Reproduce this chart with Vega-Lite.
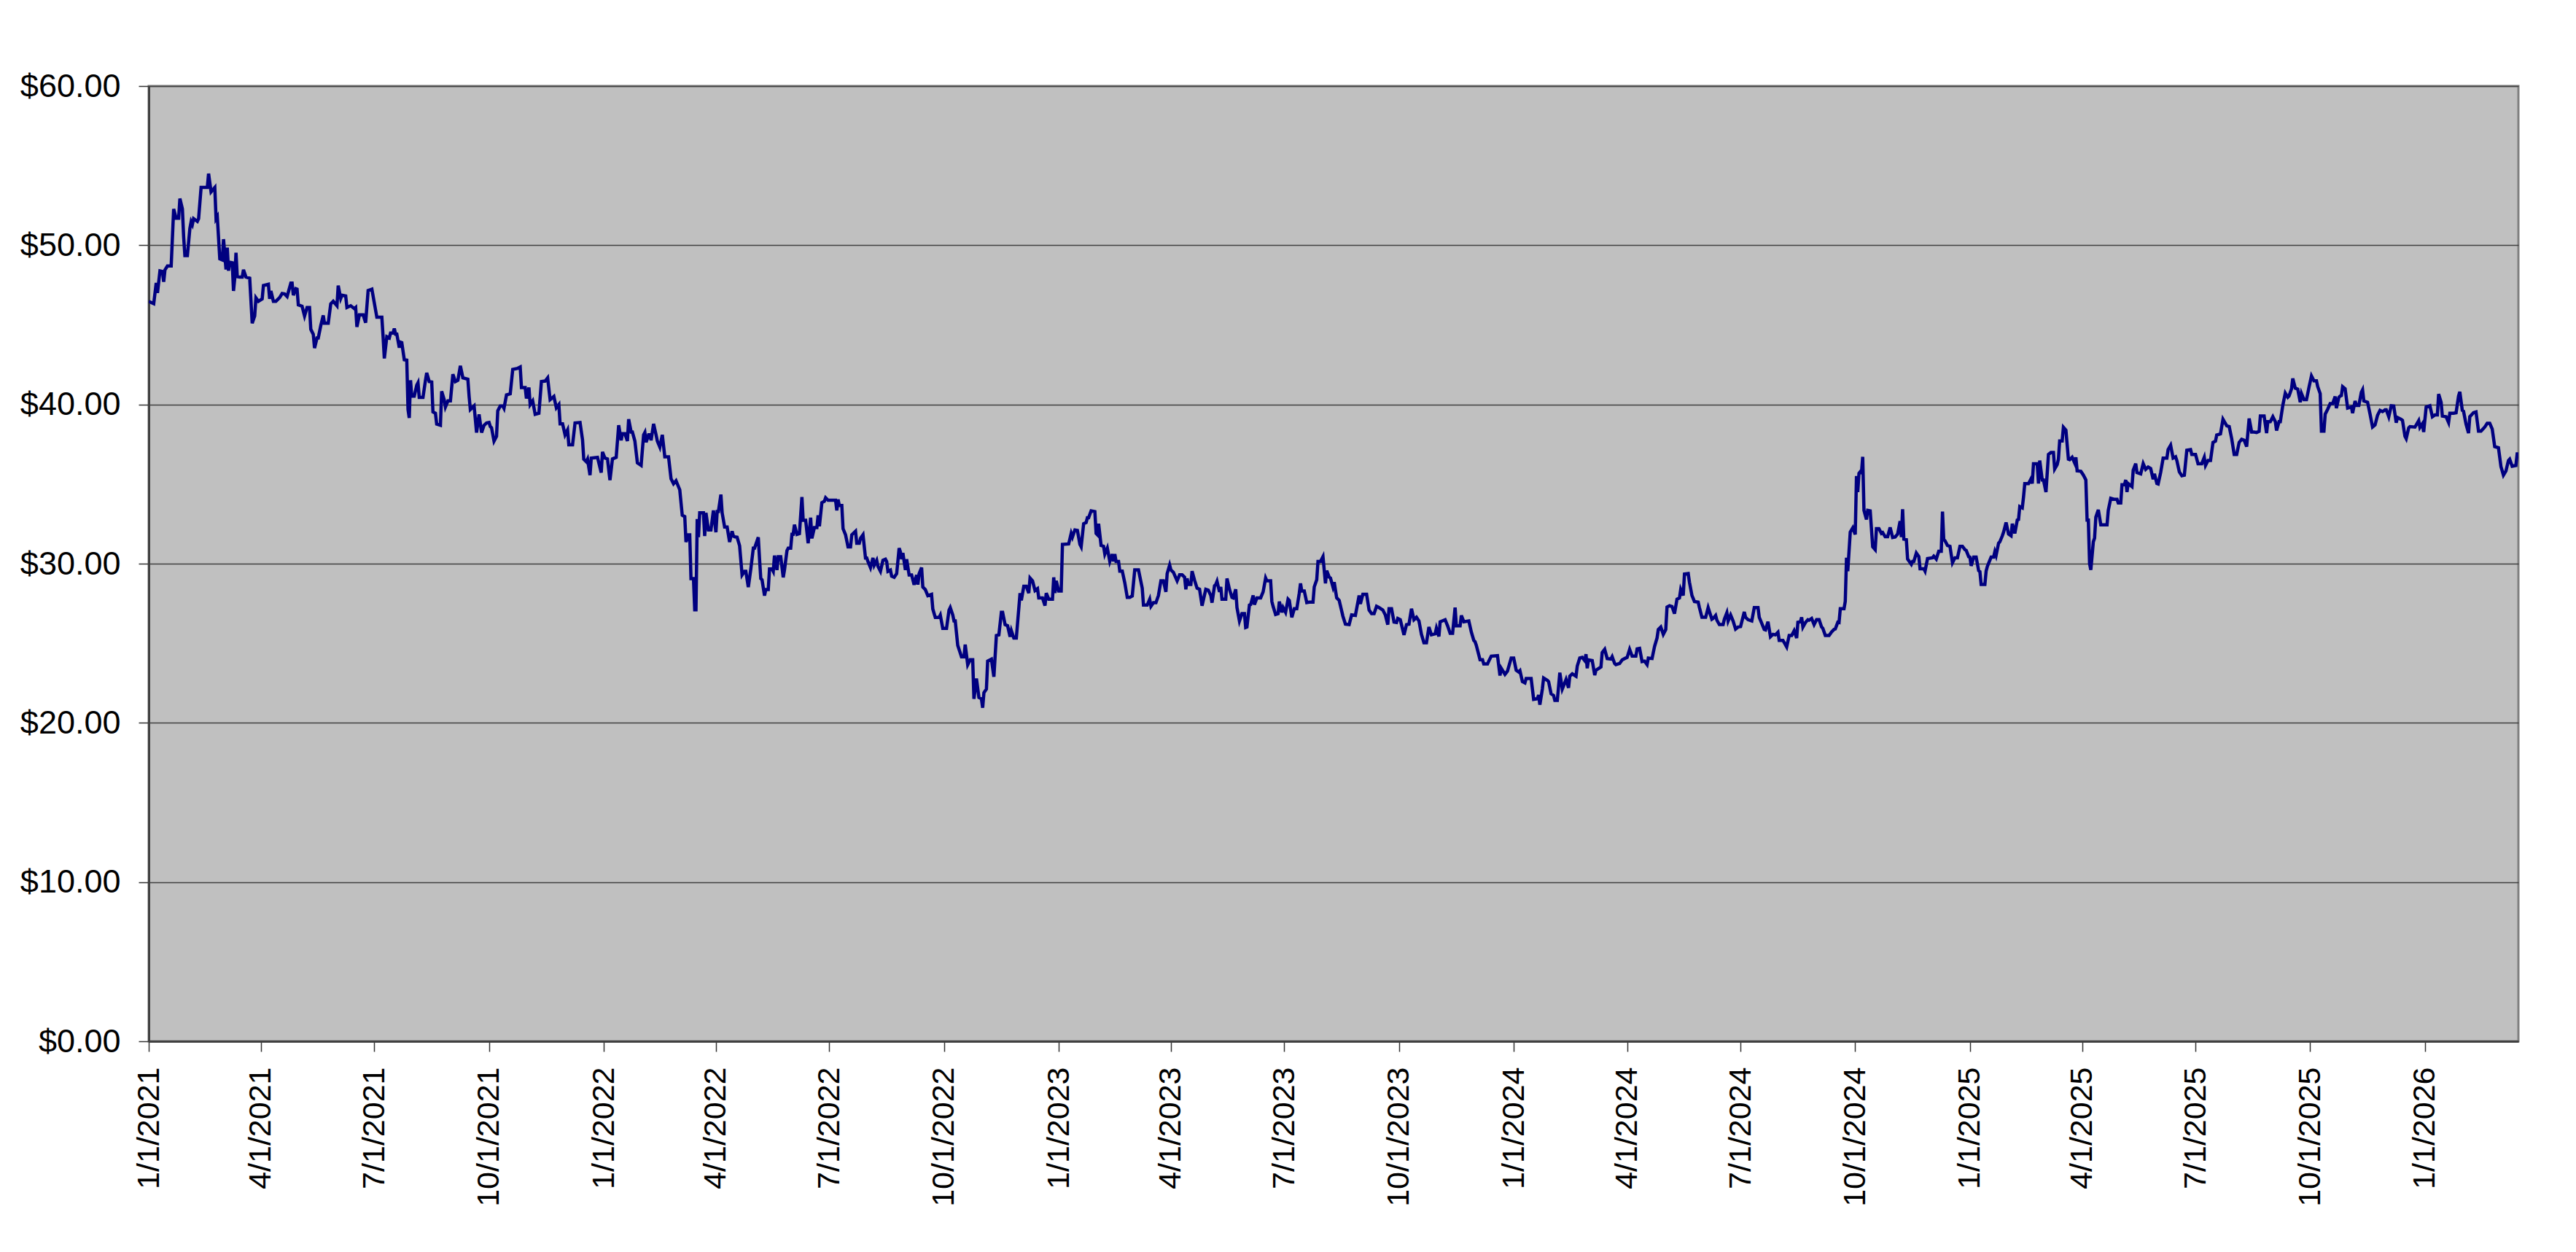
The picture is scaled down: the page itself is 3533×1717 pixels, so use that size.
{
  "$schema": "https://vega.github.io/schema/vega-lite/v6.json",
  "width": 3250,
  "height": 1310,
  "autosize": "none",
  "padding": {"left": 204, "top": 118, "right": 79, "bottom": 289},
  "background": "white",
  "data": {
    "values": [
      {"d":"2021-01-01","v":46.48},{"d":"2021-01-05","v":46.33},{"d":"2021-01-07","v":47.63},{"d":"2021-01-08","v":47.0},{"d":"2021-01-10","v":48.39},{"d":"2021-01-12","v":48.35},{"d":"2021-01-13","v":47.7},{"d":"2021-01-14","v":48.45},{"d":"2021-01-16","v":48.7},{"d":"2021-01-19","v":48.7},
      {"d":"2021-01-21","v":52.28},{"d":"2021-01-23","v":51.7},{"d":"2021-01-25","v":51.7},{"d":"2021-01-26","v":52.93},{"d":"2021-01-28","v":52.28},{"d":"2021-01-29","v":50.53},{"d":"2021-01-30","v":49.35},{"d":"2021-02-01","v":49.35},{"d":"2021-02-03","v":51.05},{"d":"2021-02-04","v":51.47},
      {"d":"2021-02-05","v":51.3},{"d":"2021-02-06","v":51.67},{"d":"2021-02-09","v":51.5},{"d":"2021-02-10","v":51.67},{"d":"2021-02-12","v":53.63},{"d":"2021-02-17","v":53.63},{"d":"2021-02-18","v":54.5},{"d":"2021-02-20","v":53.35},{"d":"2021-02-23","v":53.63},{"d":"2021-02-24","v":51.67},
      {"d":"2021-02-25","v":51.8},{"d":"2021-02-27","v":49.15},{"d":"2021-03-01","v":49.08},{"d":"2021-03-02","v":50.38},{"d":"2021-03-04","v":48.48},{"d":"2021-03-05","v":49.85},{"d":"2021-03-06","v":48.4},{"d":"2021-03-07","v":48.93},{"d":"2021-03-09","v":48.9},{"d":"2021-03-10","v":47.13},
      {"d":"2021-03-11","v":47.93},{"d":"2021-03-12","v":49.53},{"d":"2021-03-13","v":48.03},{"d":"2021-03-15","v":48.0},{"d":"2021-03-17","v":48.0},{"d":"2021-03-18","v":48.46},{"d":"2021-03-20","v":48.0},{"d":"2021-03-23","v":47.93},{"d":"2021-03-25","v":45.1},{"d":"2021-03-27","v":45.56},
      {"d":"2021-03-28","v":46.7},{"d":"2021-03-30","v":46.48},{"d":"2021-04-02","v":46.63},{"d":"2021-04-03","v":47.47},{"d":"2021-04-07","v":47.55},{"d":"2021-04-08","v":46.63},{"d":"2021-04-09","v":47.13},{"d":"2021-04-11","v":46.48},{"d":"2021-04-13","v":46.48},{"d":"2021-04-16","v":46.71},
      {"d":"2021-04-18","v":46.97},{"d":"2021-04-20","v":46.94},{"d":"2021-04-22","v":46.78},{"d":"2021-04-25","v":47.62},{"d":"2021-04-26","v":47.62},{"d":"2021-04-27","v":46.86},{"d":"2021-04-29","v":47.27},{"d":"2021-04-30","v":47.24},{"d":"2021-05-01","v":46.25},{"d":"2021-05-04","v":46.17},
      {"d":"2021-05-06","v":45.56},{"d":"2021-05-08","v":46.09},{"d":"2021-05-10","v":46.09},{"d":"2021-05-11","v":44.72},{"d":"2021-05-13","v":44.41},{"d":"2021-05-14","v":43.54},{"d":"2021-05-16","v":44.18},{"d":"2021-05-17","v":44.18},{"d":"2021-05-19","v":44.95},{"d":"2021-05-21","v":45.59},
      {"d":"2021-05-22","v":45.1},{"d":"2021-05-25","v":45.1},{"d":"2021-05-27","v":46.32},{"d":"2021-05-29","v":46.48},{"d":"2021-06-01","v":46.2},{"d":"2021-06-02","v":47.47},{"d":"2021-06-04","v":46.66},{"d":"2021-06-05","v":46.86},{"d":"2021-06-08","v":46.81},{"d":"2021-06-09","v":46.09},
      {"d":"2021-06-12","v":46.2},{"d":"2021-06-15","v":46.02},{"d":"2021-06-16","v":46.09},{"d":"2021-06-17","v":44.87},{"d":"2021-06-19","v":45.63},{"d":"2021-06-22","v":45.63},{"d":"2021-06-24","v":45.13},{"d":"2021-06-26","v":47.16},{"d":"2021-06-29","v":47.24},{"d":"2021-07-03","v":45.48},
      {"d":"2021-07-07","v":45.48},{"d":"2021-07-08","v":44.26},{"d":"2021-07-09","v":42.89},{"d":"2021-07-11","v":44.26},{"d":"2021-07-13","v":44.18},{"d":"2021-07-14","v":44.49},{"d":"2021-07-16","v":44.49},{"d":"2021-07-17","v":44.77},{"d":"2021-07-18","v":44.42},{"d":"2021-07-19","v":44.42},
      {"d":"2021-07-21","v":43.57},{"d":"2021-07-22","v":43.91},{"d":"2021-07-23","v":43.88},{"d":"2021-07-25","v":42.81},{"d":"2021-07-27","v":42.78},{"d":"2021-07-28","v":39.68},{"d":"2021-07-29","v":39.15},{"d":"2021-07-30","v":41.52},{"d":"2021-07-31","v":40.52},{"d":"2021-08-02","v":40.52},
      {"d":"2021-08-04","v":41.21},{"d":"2021-08-05","v":41.36},{"d":"2021-08-06","v":40.44},{"d":"2021-08-09","v":40.44},{"d":"2021-08-11","v":41.52},{"d":"2021-08-12","v":41.98},{"d":"2021-08-14","v":41.44},{"d":"2021-08-16","v":41.41},{"d":"2021-08-17","v":39.53},{"d":"2021-08-19","v":39.45},
      {"d":"2021-08-20","v":38.77},{"d":"2021-08-23","v":38.69},{"d":"2021-08-24","v":40.83},{"d":"2021-08-26","v":40.3},{"d":"2021-08-27","v":39.84},{"d":"2021-08-29","v":40.22},{"d":"2021-08-31","v":40.22},{"d":"2021-09-02","v":41.9},{"d":"2021-09-04","v":41.44},{"d":"2021-09-06","v":41.52},
      {"d":"2021-09-08","v":42.43},{"d":"2021-09-10","v":41.67},{"d":"2021-09-14","v":41.59},{"d":"2021-09-15","v":40.52},{"d":"2021-09-16","v":39.68},{"d":"2021-09-19","v":39.91},{"d":"2021-09-21","v":38.23},{"d":"2021-09-23","v":39.38},{"d":"2021-09-25","v":38.23},{"d":"2021-09-27","v":38.69},
      {"d":"2021-09-29","v":38.84},{"d":"2021-10-01","v":38.87},{"d":"2021-10-02","v":38.61},{"d":"2021-10-03","v":38.54},{"d":"2021-10-05","v":37.7},{"d":"2021-10-07","v":38.0},{"d":"2021-10-08","v":39.6},{"d":"2021-10-10","v":39.91},{"d":"2021-10-12","v":39.91},{"d":"2021-10-13","v":39.76},
      {"d":"2021-10-15","v":40.6},{"d":"2021-10-18","v":40.67},{"d":"2021-10-20","v":42.2},{"d":"2021-10-24","v":42.27},{"d":"2021-10-26","v":42.35},{"d":"2021-10-27","v":41.06},{"d":"2021-10-30","v":41.06},{"d":"2021-10-31","v":40.37},{"d":"2021-11-02","v":41.06},{"d":"2021-11-03","v":39.99},
      {"d":"2021-11-05","v":40.22},{"d":"2021-11-07","v":39.38},{"d":"2021-11-10","v":39.45},{"d":"2021-11-12","v":41.44},{"d":"2021-11-15","v":41.47},{"d":"2021-11-17","v":41.67},{"d":"2021-11-19","v":40.3},{"d":"2021-11-22","v":40.5},{"d":"2021-11-24","v":39.79},{"d":"2021-11-26","v":39.99},
      {"d":"2021-11-27","v":38.78},{"d":"2021-11-29","v":38.78},{"d":"2021-12-01","v":38.09},{"d":"2021-12-03","v":38.4},{"d":"2021-12-04","v":37.47},{"d":"2021-12-07","v":37.47},{"d":"2021-12-09","v":38.84},{"d":"2021-12-13","v":38.87},{"d":"2021-12-15","v":37.78},{"d":"2021-12-16","v":36.56},
      {"d":"2021-12-18","v":36.4},{"d":"2021-12-19","v":36.56},{"d":"2021-12-21","v":35.56},{"d":"2021-12-22","v":36.63},{"d":"2021-12-27","v":36.68},{"d":"2021-12-30","v":35.72},{"d":"2021-12-31","v":37.02},{"d":"2022-01-02","v":36.63},{"d":"2022-01-04","v":36.58},{"d":"2022-01-06","v":35.25},
      {"d":"2022-01-08","v":36.58},{"d":"2022-01-11","v":36.68},{"d":"2022-01-13","v":38.7},{"d":"2022-01-15","v":37.75},{"d":"2022-01-16","v":38.16},{"d":"2022-01-18","v":38.16},{"d":"2022-01-20","v":37.7},{"d":"2022-01-21","v":39.07},{"d":"2022-01-23","v":38.27},{"d":"2022-01-24","v":38.27},
      {"d":"2022-01-26","v":37.7},{"d":"2022-01-28","v":36.33},{"d":"2022-01-31","v":36.17},{"d":"2022-02-02","v":38.09},{"d":"2022-02-03","v":38.24},{"d":"2022-02-04","v":37.63},{"d":"2022-02-06","v":38.09},{"d":"2022-02-07","v":38.09},{"d":"2022-02-08","v":37.75},{"d":"2022-02-10","v":38.78},
      {"d":"2022-02-12","v":38.09},{"d":"2022-02-13","v":37.7},{"d":"2022-02-15","v":37.32},{"d":"2022-02-17","v":38.09},{"d":"2022-02-19","v":36.71},{"d":"2022-02-22","v":36.71},{"d":"2022-02-24","v":35.33},{"d":"2022-02-26","v":35.02},{"d":"2022-02-28","v":35.21},{"d":"2022-03-03","v":34.64},
      {"d":"2022-03-05","v":33.04},{"d":"2022-03-07","v":32.96},{"d":"2022-03-08","v":31.36},{"d":"2022-03-10","v":31.81},{"d":"2022-03-11","v":31.81},{"d":"2022-03-12","v":29.06},{"d":"2022-03-14","v":29.06},{"d":"2022-03-15","v":27.1},{"d":"2022-03-16","v":27.1},{"d":"2022-03-17","v":32.8},
      {"d":"2022-03-18","v":31.66},{"d":"2022-03-19","v":33.19},{"d":"2022-03-22","v":33.19},{"d":"2022-03-23","v":31.74},{"d":"2022-03-24","v":33.19},{"d":"2022-03-26","v":32.12},{"d":"2022-03-28","v":32.12},{"d":"2022-03-30","v":33.34},{"d":"2022-04-01","v":31.97},{"d":"2022-04-02","v":33.27},
      {"d":"2022-04-03","v":33.27},{"d":"2022-04-05","v":34.34},{"d":"2022-04-06","v":33.19},{"d":"2022-04-08","v":32.3},{"d":"2022-04-10","v":32.3},{"d":"2022-04-12","v":31.36},{"d":"2022-04-14","v":32.04},{"d":"2022-04-15","v":31.74},{"d":"2022-04-16","v":31.69},{"d":"2022-04-18","v":31.66},
      {"d":"2022-04-20","v":31.13},{"d":"2022-04-22","v":29.29},{"d":"2022-04-24","v":29.52},{"d":"2022-04-25","v":29.52},{"d":"2022-04-27","v":28.53},{"d":"2022-04-29","v":29.67},{"d":"2022-05-01","v":30.97},{"d":"2022-05-02","v":30.97},{"d":"2022-05-05","v":31.66},{"d":"2022-05-06","v":30.29},
      {"d":"2022-05-07","v":29.06},{"d":"2022-05-08","v":28.99},{"d":"2022-05-10","v":27.99},{"d":"2022-05-11","v":28.37},{"d":"2022-05-13","v":28.37},{"d":"2022-05-14","v":29.67},{"d":"2022-05-16","v":29.67},{"d":"2022-05-17","v":29.52},{"d":"2022-05-18","v":30.51},{"d":"2022-05-20","v":29.6},
      {"d":"2022-05-21","v":30.44},{"d":"2022-05-23","v":30.44},{"d":"2022-05-25","v":29.14},{"d":"2022-05-26","v":29.6},{"d":"2022-05-28","v":30.82},{"d":"2022-05-29","v":30.97},{"d":"2022-05-31","v":30.97},{"d":"2022-06-01","v":31.84},{"d":"2022-06-02","v":31.84},{"d":"2022-06-03","v":32.45},
      {"d":"2022-06-05","v":31.84},{"d":"2022-06-07","v":31.89},{"d":"2022-06-09","v":34.18},{"d":"2022-06-10","v":32.73},{"d":"2022-06-12","v":32.73},{"d":"2022-06-14","v":31.28},{"d":"2022-06-16","v":32.89},{"d":"2022-06-17","v":31.59},{"d":"2022-06-19","v":32.27},{"d":"2022-06-21","v":32.27},
      {"d":"2022-06-22","v":33.04},{"d":"2022-06-23","v":32.35},{"d":"2022-06-25","v":33.83},{"d":"2022-06-27","v":33.92},{"d":"2022-06-28","v":34.14},{"d":"2022-06-30","v":33.98},{"d":"2022-07-06","v":33.98},{"d":"2022-07-07","v":33.34},{"d":"2022-07-08","v":34.03},{"d":"2022-07-09","v":33.65},
      {"d":"2022-07-11","v":33.65},{"d":"2022-07-12","v":32.2},{"d":"2022-07-14","v":31.81},{"d":"2022-07-16","v":31.05},{"d":"2022-07-18","v":31.05},{"d":"2022-07-19","v":31.81},{"d":"2022-07-20","v":31.89},{"d":"2022-07-22","v":32.04},{"d":"2022-07-23","v":31.28},{"d":"2022-07-25","v":31.28},
      {"d":"2022-07-26","v":31.59},{"d":"2022-07-28","v":31.81},{"d":"2022-07-30","v":30.36},{"d":"2022-07-31","v":30.36},{"d":"2022-08-01","v":30.13},{"d":"2022-08-03","v":29.75},{"d":"2022-08-05","v":30.36},{"d":"2022-08-06","v":29.9},{"d":"2022-08-08","v":30.21},{"d":"2022-08-09","v":29.83},
      {"d":"2022-08-11","v":29.52},{"d":"2022-08-13","v":30.21},{"d":"2022-08-15","v":30.28},{"d":"2022-08-16","v":30.13},{"d":"2022-08-17","v":29.52},{"d":"2022-08-19","v":29.6},{"d":"2022-08-20","v":29.21},{"d":"2022-08-22","v":29.14},{"d":"2022-08-24","v":29.37},{"d":"2022-08-26","v":30.97},
      {"d":"2022-08-27","v":30.74},{"d":"2022-08-28","v":30.28},{"d":"2022-08-29","v":30.67},{"d":"2022-08-31","v":29.6},{"d":"2022-09-01","v":30.28},{"d":"2022-09-03","v":29.29},{"d":"2022-09-05","v":29.29},{"d":"2022-09-07","v":28.68},{"d":"2022-09-09","v":29.29},{"d":"2022-09-10","v":28.68},
      {"d":"2022-09-11","v":29.37},{"d":"2022-09-13","v":29.75},{"d":"2022-09-14","v":28.53},{"d":"2022-09-16","v":28.37},{"d":"2022-09-18","v":27.99},{"d":"2022-09-21","v":28.07},{"d":"2022-09-22","v":27.15},{"d":"2022-09-24","v":26.62},{"d":"2022-09-27","v":26.62},{"d":"2022-09-28","v":26.77},
      {"d":"2022-09-30","v":25.93},{"d":"2022-10-03","v":25.93},{"d":"2022-10-05","v":27.07},{"d":"2022-10-06","v":27.24},{"d":"2022-10-08","v":26.78},{"d":"2022-10-09","v":26.4},{"d":"2022-10-10","v":26.4},{"d":"2022-10-12","v":24.87},{"d":"2022-10-15","v":24.15},{"d":"2022-10-17","v":24.15},
      {"d":"2022-10-18","v":24.92},{"d":"2022-10-20","v":23.65},{"d":"2022-10-22","v":23.96},{"d":"2022-10-24","v":23.96},{"d":"2022-10-25","v":21.51},{"d":"2022-10-27","v":22.78},{"d":"2022-10-29","v":21.59},{"d":"2022-10-31","v":21.51},{"d":"2022-11-01","v":20.95},{"d":"2022-11-02","v":21.89},
      {"d":"2022-11-04","v":22.12},{"d":"2022-11-05","v":23.88},{"d":"2022-11-08","v":24.0},{"d":"2022-11-10","v":22.89},{"d":"2022-11-12","v":25.49},{"d":"2022-11-14","v":25.53},{"d":"2022-11-16","v":26.94},{"d":"2022-11-17","v":26.94},{"d":"2022-11-19","v":26.17},{"d":"2022-11-21","v":26.1},
      {"d":"2022-11-23","v":25.41},{"d":"2022-11-24","v":25.79},{"d":"2022-11-26","v":25.33},{"d":"2022-11-28","v":25.33},{"d":"2022-12-01","v":28.15},{"d":"2022-12-02","v":27.69},{"d":"2022-12-04","v":28.58},{"d":"2022-12-06","v":28.58},{"d":"2022-12-08","v":28.15},{"d":"2022-12-09","v":29.1},
      {"d":"2022-12-11","v":28.92},{"d":"2022-12-13","v":28.31},{"d":"2022-12-15","v":28.43},{"d":"2022-12-16","v":27.85},{"d":"2022-12-19","v":27.85},{"d":"2022-12-21","v":27.36},{"d":"2022-12-22","v":28.15},{"d":"2022-12-24","v":27.77},{"d":"2022-12-27","v":27.77},{"d":"2022-12-28","v":29.14},
      {"d":"2022-12-29","v":28.15},{"d":"2022-12-30","v":28.92},{"d":"2023-01-01","v":28.28},{"d":"2023-01-03","v":28.28},{"d":"2023-01-04","v":31.21},{"d":"2023-01-09","v":31.24},{"d":"2023-01-11","v":31.9},{"d":"2023-01-12","v":31.67},{"d":"2023-01-14","v":32.12},{"d":"2023-01-16","v":32.09},
      {"d":"2023-01-18","v":31.21},{"d":"2023-01-19","v":31.06},{"d":"2023-01-21","v":32.51},{"d":"2023-01-23","v":32.58},{"d":"2023-01-24","v":32.89},{"d":"2023-01-25","v":32.89},{"d":"2023-01-27","v":33.32},{"d":"2023-01-30","v":33.27},{"d":"2023-01-31","v":31.9},{"d":"2023-02-01","v":31.82},
      {"d":"2023-02-02","v":32.51},{"d":"2023-02-04","v":31.14},{"d":"2023-02-06","v":31.09},{"d":"2023-02-07","v":30.6},{"d":"2023-02-09","v":30.98},{"d":"2023-02-11","v":30.14},{"d":"2023-02-13","v":30.6},{"d":"2023-02-14","v":30.14},{"d":"2023-02-15","v":30.6},{"d":"2023-02-16","v":30.14},
      {"d":"2023-02-18","v":30.14},{"d":"2023-02-19","v":29.53},{"d":"2023-02-21","v":29.53},{"d":"2023-02-23","v":28.8},{"d":"2023-02-25","v":27.88},{"d":"2023-02-27","v":27.88},{"d":"2023-03-01","v":27.97},{"d":"2023-03-03","v":29.61},{"d":"2023-03-06","v":29.61},{"d":"2023-03-09","v":28.46},
      {"d":"2023-03-10","v":27.4},{"d":"2023-03-13","v":27.4},{"d":"2023-03-15","v":27.77},{"d":"2023-03-16","v":27.32},{"d":"2023-03-18","v":27.55},{"d":"2023-03-20","v":27.55},{"d":"2023-03-22","v":28.0},{"d":"2023-03-24","v":28.92},{"d":"2023-03-26","v":28.92},{"d":"2023-03-28","v":28.23},
      {"d":"2023-03-29","v":29.38},{"d":"2023-03-31","v":29.91},{"d":"2023-04-01","v":29.61},{"d":"2023-04-03","v":29.46},{"d":"2023-04-06","v":28.92},{"d":"2023-04-08","v":29.3},{"d":"2023-04-10","v":29.3},{"d":"2023-04-12","v":29.15},{"d":"2023-04-13","v":28.38},{"d":"2023-04-14","v":29.07},
      {"d":"2023-04-15","v":28.69},{"d":"2023-04-17","v":28.69},{"d":"2023-04-18","v":29.53},{"d":"2023-04-20","v":28.95},{"d":"2023-04-22","v":28.46},{"d":"2023-04-24","v":28.39},{"d":"2023-04-26","v":27.36},{"d":"2023-04-29","v":28.39},{"d":"2023-05-01","v":28.34},{"d":"2023-05-03","v":28.0},
      {"d":"2023-05-04","v":27.55},{"d":"2023-05-06","v":28.61},{"d":"2023-05-07","v":28.69},{"d":"2023-05-08","v":28.89},{"d":"2023-05-10","v":28.23},{"d":"2023-05-11","v":28.54},{"d":"2023-05-12","v":27.77},{"d":"2023-05-15","v":27.77},{"d":"2023-05-16","v":29.07},{"d":"2023-05-18","v":28.39},
      {"d":"2023-05-20","v":27.88},{"d":"2023-05-21","v":27.85},{"d":"2023-05-23","v":28.39},{"d":"2023-05-24","v":27.24},{"d":"2023-05-26","v":26.4},{"d":"2023-05-28","v":26.86},{"d":"2023-05-30","v":26.86},{"d":"2023-05-31","v":25.99},{"d":"2023-06-01","v":26.02},{"d":"2023-06-03","v":27.4},
      {"d":"2023-06-04","v":27.43},{"d":"2023-06-06","v":28.0},{"d":"2023-06-07","v":27.43},{"d":"2023-06-09","v":27.85},{"d":"2023-06-12","v":27.85},{"d":"2023-06-14","v":28.23},{"d":"2023-06-16","v":29.1},{"d":"2023-06-17","v":28.92},{"d":"2023-06-20","v":28.92},{"d":"2023-06-21","v":27.62},
      {"d":"2023-06-22","v":27.32},{"d":"2023-06-24","v":26.81},{"d":"2023-06-26","v":26.86},{"d":"2023-06-27","v":27.62},{"d":"2023-06-29","v":26.94},{"d":"2023-06-30","v":27.24},{"d":"2023-07-02","v":26.94},{"d":"2023-07-04","v":27.77},{"d":"2023-07-05","v":27.69},{"d":"2023-07-07","v":26.63},
      {"d":"2023-07-09","v":27.17},{"d":"2023-07-11","v":27.17},{"d":"2023-07-13","v":28.15},{"d":"2023-07-14","v":28.76},{"d":"2023-07-15","v":28.28},{"d":"2023-07-17","v":28.28},{"d":"2023-07-19","v":27.55},{"d":"2023-07-21","v":27.58},{"d":"2023-07-24","v":27.58},{"d":"2023-07-25","v":28.54},
      {"d":"2023-07-27","v":28.99},{"d":"2023-07-28","v":30.14},{"d":"2023-07-30","v":30.14},{"d":"2023-08-01","v":30.44},{"d":"2023-08-03","v":28.76},{"d":"2023-08-04","v":29.56},{"d":"2023-08-06","v":29.15},{"d":"2023-08-07","v":29.1},{"d":"2023-08-09","v":28.54},{"d":"2023-08-10","v":28.84},
      {"d":"2023-08-12","v":27.85},{"d":"2023-08-14","v":27.69},{"d":"2023-08-17","v":26.7},{"d":"2023-08-19","v":26.2},{"d":"2023-08-22","v":26.17},{"d":"2023-08-24","v":26.78},{"d":"2023-08-27","v":26.75},{"d":"2023-08-30","v":28.0},{"d":"2023-08-31","v":27.47},{"d":"2023-09-02","v":28.08},
      {"d":"2023-09-05","v":28.08},{"d":"2023-09-07","v":27.09},{"d":"2023-09-09","v":26.86},{"d":"2023-09-11","v":26.86},{"d":"2023-09-13","v":27.32},{"d":"2023-09-15","v":27.24},{"d":"2023-09-18","v":27.09},{"d":"2023-09-20","v":26.78},{"d":"2023-09-22","v":26.17},{"d":"2023-09-23","v":27.17},
      {"d":"2023-09-25","v":27.17},{"d":"2023-09-27","v":26.33},{"d":"2023-09-29","v":26.3},{"d":"2023-09-30","v":26.56},{"d":"2023-10-02","v":26.48},{"d":"2023-10-05","v":25.53},{"d":"2023-10-07","v":26.17},{"d":"2023-10-09","v":26.2},{"d":"2023-10-11","v":27.17},{"d":"2023-10-13","v":26.48},
      {"d":"2023-10-15","v":26.63},{"d":"2023-10-17","v":26.4},{"d":"2023-10-19","v":25.56},{"d":"2023-10-21","v":25.03},{"d":"2023-10-23","v":25.03},{"d":"2023-10-25","v":26.02},{"d":"2023-10-27","v":25.53},{"d":"2023-10-30","v":25.59},{"d":"2023-10-31","v":25.94},{"d":"2023-11-02","v":25.43},
      {"d":"2023-11-03","v":26.35},{"d":"2023-11-07","v":26.48},{"d":"2023-11-09","v":26.09},{"d":"2023-11-11","v":25.63},{"d":"2023-11-13","v":25.63},{"d":"2023-11-15","v":27.24},{"d":"2023-11-16","v":26.09},{"d":"2023-11-19","v":26.09},{"d":"2023-11-20","v":26.75},{"d":"2023-11-22","v":26.35},
      {"d":"2023-11-26","v":26.4},{"d":"2023-11-28","v":25.71},{"d":"2023-11-30","v":25.18},{"d":"2023-12-01","v":25.1},{"d":"2023-12-02","v":24.87},{"d":"2023-12-05","v":23.96},{"d":"2023-12-07","v":23.96},{"d":"2023-12-08","v":23.7},{"d":"2023-12-11","v":23.7},{"d":"2023-12-12","v":23.88},
      {"d":"2023-12-14","v":24.19},{"d":"2023-12-19","v":24.22},{"d":"2023-12-21","v":22.97},{"d":"2023-12-22","v":23.43},{"d":"2023-12-25","v":23.05},{"d":"2023-12-27","v":23.25},{"d":"2023-12-30","v":24.07},{"d":"2024-01-01","v":24.07},{"d":"2024-01-03","v":23.31},{"d":"2024-01-05","v":23.2},
      {"d":"2024-01-06","v":23.28},{"d":"2024-01-08","v":22.59},{"d":"2024-01-10","v":22.51},{"d":"2024-01-11","v":22.79},{"d":"2024-01-15","v":22.79},{"d":"2024-01-17","v":21.48},{"d":"2024-01-20","v":21.52},{"d":"2024-01-21","v":21.75},{"d":"2024-01-22","v":21.14},{"d":"2024-01-24","v":22.13},
      {"d":"2024-01-25","v":22.82},{"d":"2024-01-28","v":22.67},{"d":"2024-01-29","v":22.59},{"d":"2024-01-31","v":21.83},{"d":"2024-02-02","v":21.72},{"d":"2024-02-03","v":21.41},{"d":"2024-02-05","v":21.41},{"d":"2024-02-07","v":23.15},{"d":"2024-02-09","v":22.13},{"d":"2024-02-10","v":22.32},
      {"d":"2024-02-12","v":22.73},{"d":"2024-02-14","v":22.2},{"d":"2024-02-15","v":22.93},{"d":"2024-02-17","v":23.08},{"d":"2024-02-20","v":22.93},{"d":"2024-02-21","v":23.57},{"d":"2024-02-23","v":24.07},{"d":"2024-02-25","v":24.11},{"d":"2024-02-27","v":23.91},{"d":"2024-02-28","v":24.31},
      {"d":"2024-02-29","v":23.43},{"d":"2024-03-01","v":23.96},{"d":"2024-03-04","v":23.91},{"d":"2024-03-06","v":23.0},{"d":"2024-03-07","v":23.31},{"d":"2024-03-11","v":23.51},{"d":"2024-03-12","v":24.42},{"d":"2024-03-14","v":24.62},{"d":"2024-03-16","v":24.04},{"d":"2024-03-19","v":24.01},
      {"d":"2024-03-20","v":24.16},{"d":"2024-03-22","v":23.73},{"d":"2024-03-23","v":23.66},{"d":"2024-03-26","v":23.73},{"d":"2024-03-28","v":23.96},{"d":"2024-03-30","v":24.04},{"d":"2024-04-01","v":24.11},{"d":"2024-04-03","v":24.62},{"d":"2024-04-05","v":24.19},{"d":"2024-04-08","v":24.19},
      {"d":"2024-04-09","v":24.65},{"d":"2024-04-11","v":24.68},{"d":"2024-04-13","v":23.85},{"d":"2024-04-15","v":23.88},{"d":"2024-04-17","v":23.66},{"d":"2024-04-18","v":24.07},{"d":"2024-04-21","v":24.04},{"d":"2024-04-23","v":24.8},{"d":"2024-04-25","v":25.33},{"d":"2024-04-26","v":25.86},
      {"d":"2024-04-28","v":26.02},{"d":"2024-04-30","v":25.56},{"d":"2024-05-02","v":25.86},{"d":"2024-05-03","v":27.27},{"d":"2024-05-05","v":27.36},{"d":"2024-05-07","v":27.31},{"d":"2024-05-09","v":26.86},{"d":"2024-05-11","v":27.77},{"d":"2024-05-13","v":27.85},{"d":"2024-05-14","v":28.38},
      {"d":"2024-05-16","v":28.0},{"d":"2024-05-17","v":29.35},{"d":"2024-05-20","v":29.38},{"d":"2024-05-21","v":28.84},{"d":"2024-05-23","v":28.0},{"d":"2024-05-25","v":27.62},{"d":"2024-05-28","v":27.58},{"d":"2024-05-29","v":27.24},{"d":"2024-05-31","v":26.63},{"d":"2024-06-03","v":26.63},
      {"d":"2024-06-05","v":27.24},{"d":"2024-06-08","v":26.51},{"d":"2024-06-09","v":26.56},{"d":"2024-06-11","v":26.75},{"d":"2024-06-12","v":26.45},{"d":"2024-06-14","v":26.17},{"d":"2024-06-17","v":26.17},{"d":"2024-06-18","v":26.51},{"d":"2024-06-20","v":26.91},{"d":"2024-06-21","v":26.4},
      {"d":"2024-06-23","v":26.78},{"d":"2024-06-25","v":26.4},{"d":"2024-06-27","v":25.89},{"d":"2024-06-29","v":26.02},{"d":"2024-07-01","v":26.05},{"d":"2024-07-04","v":26.97},{"d":"2024-07-05","v":26.63},{"d":"2024-07-07","v":26.48},{"d":"2024-07-10","v":26.4},{"d":"2024-07-12","v":27.24},
      {"d":"2024-07-15","v":27.24},{"d":"2024-07-16","v":26.63},{"d":"2024-07-18","v":26.25},{"d":"2024-07-20","v":25.87},{"d":"2024-07-21","v":25.84},{"d":"2024-07-23","v":26.35},{"d":"2024-07-25","v":25.41},{"d":"2024-07-27","v":25.56},{"d":"2024-07-29","v":25.53},{"d":"2024-07-31","v":25.69},
      {"d":"2024-08-01","v":25.18},{"d":"2024-08-04","v":25.18},{"d":"2024-08-07","v":24.77},{"d":"2024-08-09","v":25.49},{"d":"2024-08-11","v":25.49},{"d":"2024-08-13","v":25.79},{"d":"2024-08-15","v":25.33},{"d":"2024-08-16","v":26.32},{"d":"2024-08-18","v":26.35},{"d":"2024-08-19","v":26.63},
      {"d":"2024-08-20","v":26.02},{"d":"2024-08-22","v":26.3},{"d":"2024-08-24","v":26.48},{"d":"2024-08-25","v":26.45},{"d":"2024-08-27","v":26.56},{"d":"2024-08-29","v":26.17},{"d":"2024-08-31","v":26.48},{"d":"2024-09-02","v":26.48},{"d":"2024-09-04","v":26.02},{"d":"2024-09-05","v":25.94},
      {"d":"2024-09-07","v":25.49},{"d":"2024-09-10","v":25.49},{"d":"2024-09-12","v":25.71},{"d":"2024-09-14","v":25.87},{"d":"2024-09-15","v":25.9},{"d":"2024-09-17","v":26.32},{"d":"2024-09-18","v":26.3},{"d":"2024-09-19","v":27.17},{"d":"2024-09-22","v":27.17},{"d":"2024-09-23","v":27.63},
      {"d":"2024-09-24","v":30.37},{"d":"2024-09-25","v":29.53},{"d":"2024-09-27","v":31.98},{"d":"2024-09-29","v":32.25},{"d":"2024-10-01","v":31.83},{"d":"2024-10-02","v":35.5},{"d":"2024-10-03","v":34.5},{"d":"2024-10-04","v":35.67},{"d":"2024-10-05","v":35.77},{"d":"2024-10-06","v":35.72},
      {"d":"2024-10-07","v":36.71},{"d":"2024-10-08","v":33.35},{"d":"2024-10-10","v":32.77},{"d":"2024-10-11","v":33.35},{"d":"2024-10-13","v":33.32},{"d":"2024-10-15","v":31.06},{"d":"2024-10-17","v":30.88},{"d":"2024-10-18","v":32.2},{"d":"2024-10-20","v":32.2},{"d":"2024-10-22","v":31.9},
      {"d":"2024-10-23","v":31.95},{"d":"2024-10-25","v":31.7},{"d":"2024-10-27","v":31.7},{"d":"2024-10-29","v":32.28},{"d":"2024-10-31","v":31.64},{"d":"2024-11-02","v":31.67},{"d":"2024-11-04","v":31.86},{"d":"2024-11-06","v":32.67},{"d":"2024-11-07","v":31.67},{"d":"2024-11-08","v":33.42},
      {"d":"2024-11-09","v":31.54},{"d":"2024-11-11","v":31.51},{"d":"2024-11-12","v":30.29},{"d":"2024-11-15","v":29.96},{"d":"2024-11-16","v":30.14},{"d":"2024-11-17","v":30.14},{"d":"2024-11-19","v":30.67},{"d":"2024-11-21","v":30.44},{"d":"2024-11-22","v":29.68},{"d":"2024-11-25","v":29.68},
      {"d":"2024-11-26","v":29.53},{"d":"2024-11-28","v":30.32},{"d":"2024-12-02","v":30.37},{"d":"2024-12-03","v":30.47},{"d":"2024-12-05","v":30.29},{"d":"2024-12-07","v":30.78},{"d":"2024-12-09","v":30.78},{"d":"2024-12-10","v":33.27},{"d":"2024-12-11","v":31.51},{"d":"2024-12-12","v":31.44},
      {"d":"2024-12-14","v":31.14},{"d":"2024-12-16","v":31.09},{"d":"2024-12-17","v":30.57},{"d":"2024-12-18","v":30.06},{"d":"2024-12-20","v":30.37},{"d":"2024-12-22","v":30.37},{"d":"2024-12-24","v":31.09},{"d":"2024-12-26","v":31.09},{"d":"2024-12-28","v":30.88},{"d":"2024-12-29","v":30.83},
      {"d":"2024-12-31","v":30.44},{"d":"2025-01-01","v":30.41},{"d":"2025-01-02","v":29.86},{"d":"2025-01-04","v":30.41},{"d":"2025-01-06","v":30.41},{"d":"2025-01-08","v":29.56},{"d":"2025-01-09","v":29.5},{"d":"2025-01-10","v":28.69},{"d":"2025-01-13","v":28.69},{"d":"2025-01-14","v":29.53},
      {"d":"2025-01-15","v":29.83},{"d":"2025-01-18","v":30.41},{"d":"2025-01-20","v":30.41},{"d":"2025-01-21","v":30.75},{"d":"2025-01-22","v":30.52},{"d":"2025-01-24","v":31.29},{"d":"2025-01-25","v":31.37},{"d":"2025-01-27","v":31.75},{"d":"2025-01-28","v":31.98},{"d":"2025-01-30","v":32.59},
      {"d":"2025-02-01","v":31.86},{"d":"2025-02-03","v":31.75},{"d":"2025-02-04","v":32.51},{"d":"2025-02-06","v":31.9},{"d":"2025-02-08","v":32.74},{"d":"2025-02-09","v":32.77},{"d":"2025-02-10","v":33.58},{"d":"2025-02-12","v":33.5},{"d":"2025-02-13","v":34.19},{"d":"2025-02-14","v":35.03},
      {"d":"2025-02-17","v":35.03},{"d":"2025-02-19","v":35.33},{"d":"2025-02-20","v":35.03},{"d":"2025-02-21","v":36.28},{"d":"2025-02-24","v":36.28},{"d":"2025-02-25","v":35.03},{"d":"2025-02-26","v":36.48},{"d":"2025-02-28","v":35.26},{"d":"2025-03-01","v":35.26},{"d":"2025-03-03","v":34.5},
      {"d":"2025-03-05","v":36.86},{"d":"2025-03-07","v":36.98},{"d":"2025-03-09","v":36.98},{"d":"2025-03-10","v":35.95},{"d":"2025-03-12","v":36.22},{"d":"2025-03-13","v":36.56},{"d":"2025-03-14","v":37.71},{"d":"2025-03-16","v":37.71},{"d":"2025-03-17","v":38.57},{"d":"2025-03-19","v":38.39},
      {"d":"2025-03-21","v":36.56},{"d":"2025-03-22","v":36.53},{"d":"2025-03-24","v":36.68},{"d":"2025-03-26","v":36.33},{"d":"2025-03-27","v":36.68},{"d":"2025-03-28","v":35.83},{"d":"2025-03-31","v":35.8},{"d":"2025-04-02","v":35.57},{"d":"2025-04-04","v":35.26},{"d":"2025-04-05","v":32.74},
      {"d":"2025-04-06","v":32.74},{"d":"2025-04-07","v":30.0},{"d":"2025-04-08","v":29.61},{"d":"2025-04-10","v":31.37},{"d":"2025-04-11","v":31.6},{"d":"2025-04-12","v":32.92},{"d":"2025-04-14","v":33.38},{"d":"2025-04-16","v":32.44},{"d":"2025-04-21","v":32.44},{"d":"2025-04-22","v":33.35},
      {"d":"2025-04-24","v":34.11},{"d":"2025-04-27","v":34.04},{"d":"2025-04-29","v":34.04},{"d":"2025-04-30","v":33.81},{"d":"2025-05-02","v":33.81},{"d":"2025-05-03","v":34.96},{"d":"2025-05-05","v":34.96},{"d":"2025-05-06","v":35.26},{"d":"2025-05-07","v":34.5},{"d":"2025-05-08","v":35.03},
      {"d":"2025-05-11","v":34.84},{"d":"2025-05-12","v":35.87},{"d":"2025-05-14","v":36.28},{"d":"2025-05-15","v":35.72},{"d":"2025-05-18","v":35.64},{"d":"2025-05-20","v":36.28},{"d":"2025-05-22","v":35.92},{"d":"2025-05-24","v":36.07},{"d":"2025-05-26","v":35.98},{"d":"2025-05-28","v":35.3},
      {"d":"2025-05-29","v":35.64},{"d":"2025-05-31","v":35.03},{"d":"2025-06-01","v":35.0},{"d":"2025-06-03","v":35.72},{"d":"2025-06-05","v":36.63},{"d":"2025-06-08","v":36.63},{"d":"2025-06-09","v":37.17},{"d":"2025-06-11","v":37.44},{"d":"2025-06-13","v":36.63},{"d":"2025-06-15","v":36.71},
      {"d":"2025-06-16","v":36.48},{"d":"2025-06-18","v":35.76},{"d":"2025-06-20","v":35.52},{"d":"2025-06-22","v":35.56},{"d":"2025-06-24","v":37.13},{"d":"2025-06-27","v":37.17},{"d":"2025-06-28","v":36.86},{"d":"2025-07-01","v":36.86},{"d":"2025-07-03","v":36.28},{"d":"2025-07-06","v":36.28},
      {"d":"2025-07-08","v":36.68},{"d":"2025-07-09","v":36.17},{"d":"2025-07-11","v":36.48},{"d":"2025-07-13","v":36.48},{"d":"2025-07-15","v":37.62},{"d":"2025-07-17","v":37.7},{"d":"2025-07-18","v":38.08},{"d":"2025-07-21","v":38.15},{"d":"2025-07-23","v":39.07},{"d":"2025-07-26","v":38.66},
      {"d":"2025-07-28","v":38.61},{"d":"2025-07-30","v":37.85},{"d":"2025-08-01","v":36.86},{"d":"2025-08-03","v":36.86},{"d":"2025-08-05","v":37.62},{"d":"2025-08-07","v":37.81},{"d":"2025-08-09","v":37.75},{"d":"2025-08-11","v":37.35},{"d":"2025-08-13","v":39.12},{"d":"2025-08-15","v":38.27},
      {"d":"2025-08-17","v":38.27},{"d":"2025-08-19","v":38.24},{"d":"2025-08-21","v":38.31},{"d":"2025-08-22","v":39.27},{"d":"2025-08-25","v":39.27},{"d":"2025-08-27","v":38.2},{"d":"2025-08-28","v":38.92},{"d":"2025-08-30","v":38.92},{"d":"2025-09-01","v":39.23},{"d":"2025-09-03","v":38.92},
      {"d":"2025-09-04","v":38.36},{"d":"2025-09-06","v":38.92},{"d":"2025-09-07","v":38.92},{"d":"2025-09-09","v":39.94},{"d":"2025-09-11","v":40.71},{"d":"2025-09-13","v":40.45},{"d":"2025-09-14","v":40.53},{"d":"2025-09-16","v":40.98},{"d":"2025-09-17","v":41.63},{"d":"2025-09-19","v":41.02},
      {"d":"2025-09-21","v":40.96},{"d":"2025-09-23","v":40.14},{"d":"2025-09-24","v":40.68},{"d":"2025-09-26","v":40.3},{"d":"2025-09-28","v":40.3},{"d":"2025-09-30","v":41.07},{"d":"2025-10-02","v":41.79},{"d":"2025-10-04","v":41.48},{"d":"2025-10-06","v":41.48},{"d":"2025-10-07","v":41.12},
      {"d":"2025-10-09","v":40.68},{"d":"2025-10-10","v":38.32},{"d":"2025-10-12","v":38.32},{"d":"2025-10-13","v":39.39},{"d":"2025-10-15","v":39.7},{"d":"2025-10-17","v":40.05},{"d":"2025-10-19","v":40.05},{"d":"2025-10-21","v":40.5},{"d":"2025-10-22","v":39.77},{"d":"2025-10-24","v":40.45},
      {"d":"2025-10-25","v":40.53},{"d":"2025-10-26","v":40.56},{"d":"2025-10-27","v":41.12},{"d":"2025-10-29","v":40.99},{"d":"2025-10-31","v":39.77},{"d":"2025-11-03","v":39.84},{"d":"2025-11-04","v":39.45},{"d":"2025-11-06","v":40.22},{"d":"2025-11-07","v":39.94},{"d":"2025-11-09","v":39.94},
      {"d":"2025-11-11","v":40.76},{"d":"2025-11-12","v":40.92},{"d":"2025-11-13","v":40.22},{"d":"2025-11-16","v":40.14},{"d":"2025-11-18","v":39.39},{"d":"2025-11-20","v":38.58},{"d":"2025-11-22","v":38.71},{"d":"2025-11-24","v":39.32},{"d":"2025-11-26","v":39.63},{"d":"2025-11-28","v":39.55},
      {"d":"2025-11-30","v":39.66},{"d":"2025-12-01","v":39.66},{"d":"2025-12-03","v":39.23},{"d":"2025-12-05","v":39.92},{"d":"2025-12-07","v":39.9},{"d":"2025-12-09","v":38.85},{"d":"2025-12-10","v":39.18},{"d":"2025-12-13","v":39.06},{"d":"2025-12-14","v":39.0},{"d":"2025-12-16","v":38.0},
      {"d":"2025-12-17","v":37.85},{"d":"2025-12-19","v":38.53},{"d":"2025-12-20","v":38.61},{"d":"2025-12-24","v":38.58},{"d":"2025-12-25","v":38.71},{"d":"2025-12-27","v":38.98},{"d":"2025-12-28","v":38.56},{"d":"2025-12-30","v":38.79},{"d":"2025-12-31","v":38.27},{"d":"2026-01-02","v":39.84},
      {"d":"2026-01-05","v":39.92},{"d":"2026-01-07","v":39.23},{"d":"2026-01-09","v":39.34},{"d":"2026-01-11","v":39.34},{"d":"2026-01-12","v":40.65},{"d":"2026-01-14","v":40.14},{"d":"2026-01-15","v":39.27},{"d":"2026-01-18","v":39.23},{"d":"2026-01-20","v":38.87},{"d":"2026-01-21","v":39.45},
      {"d":"2026-01-24","v":39.45},{"d":"2026-01-26","v":39.48},{"d":"2026-01-28","v":40.53},{"d":"2026-01-29","v":40.79},{"d":"2026-01-31","v":39.63},{"d":"2026-02-01","v":39.57},{"d":"2026-02-03","v":38.76},{"d":"2026-02-05","v":38.2},{"d":"2026-02-06","v":39.23},{"d":"2026-02-09","v":39.48},
      {"d":"2026-02-11","v":39.53},{"d":"2026-02-13","v":38.32},{"d":"2026-02-15","v":38.32},{"d":"2026-02-18","v":38.58},{"d":"2026-02-20","v":38.82},{"d":"2026-02-22","v":38.82},{"d":"2026-02-24","v":38.46},{"d":"2026-02-26","v":37.35},{"d":"2026-03-01","v":37.28},{"d":"2026-03-03","v":36.1},
      {"d":"2026-03-05","v":35.56},{"d":"2026-03-07","v":35.82},{"d":"2026-03-09","v":36.48},{"d":"2026-03-10","v":36.56},{"d":"2026-03-12","v":36.12},{"d":"2026-03-15","v":36.17},{"d":"2026-03-16","v":36.89},{"d":"2026-03-17","v":36.89}
    ]
  },
  "mark": {"type": "line", "color": "#000080", "strokeWidth": 4.5, "clip": true},
  "encoding": {
    "x": {
      "field": "d",
      "type": "temporal",
      "scale": {
        "type": "utc",
        "nice": false,
        "domain": [
          {"year": 2021, "month": 1, "date": 1, "utc": true},
          {"year": 2026, "month": 3, "date": 17, "utc": true}
        ]
      },
      "axis": {
        "title": null,
        "grid": false,
        "tickCount": {"interval": "month", "step": 3},
        "labelExpr": "utcFormat(datum.value, '%-m/%-d/%Y')",
        "labelAngle": -90,
        "labelFont": "Liberation Sans",
        "labelFontSize": 43,
        "labelColor": "#000000",
        "labelPadding": 21,
        "labelLimit": 0,
        "labelFlush": false,
        "labelOverlap": false,
        "labelBound": false,
        "tickSize": 14,
        "tickColor": "#333333",
        "tickWidth": 1.5,
        "domainColor": "#404040",
        "domainWidth": 3
      }
    },
    "y": {
      "field": "v",
      "type": "quantitative",
      "scale": {"domain": [0, 60], "nice": false},
      "axis": {
        "title": null,
        "values": [0, 10, 20, 30, 40, 50, 60],
        "format": "$.2f",
        "grid": true,
        "gridColor": "#404040",
        "gridWidth": 1.5,
        "labelFont": "Liberation Sans",
        "labelFontSize": 45,
        "labelColor": "#000000",
        "labelPadding": 25,
        "labelLimit": 0,
        "labelFlush": false,
        "tickSize": 14,
        "tickColor": "#333333",
        "tickWidth": 1.5,
        "domainColor": "#404040",
        "domainWidth": 3
      }
    }
  },
  "config": {
    "view": {"fill": "#C0C0C0", "stroke": "#808080", "strokeWidth": 3}
  }
}
